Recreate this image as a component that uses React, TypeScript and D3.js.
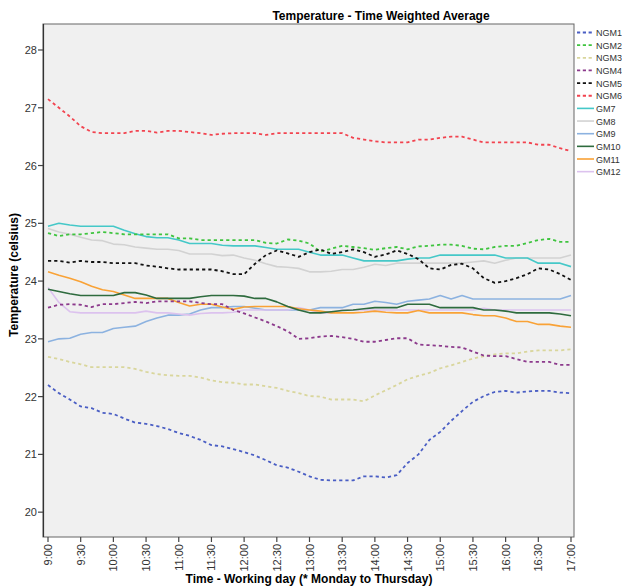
import React from "react";
import * as d3 from "d3";

const times = [
  "9:00","9:10","9:20","9:30","9:40","9:50","10:00","10:10","10:20","10:30","10:40","10:50",
  "11:00","11:10","11:20","11:30","11:40","11:50","12:00","12:10","12:20","12:30","12:40","12:50",
  "13:00","13:10","13:20","13:30","13:40","13:50","14:00","14:10","14:20","14:30","14:40","14:50",
  "15:00","15:10","15:20","15:30","15:40","15:50","16:00","16:10","16:20","16:30","16:40","16:50","17:00"
];

const tickLabels = ["9:00","9:30","10:00","10:30","11:00","11:30","12:00","12:30","13:00","13:30","14:00","14:30","15:00","15:30","16:00","16:30","17:00"];
const yTicks = [20, 21, 22, 23, 24, 25, 26, 27, 28];

const NGM1 = [22.20,22.06,21.95,21.83,21.80,21.72,21.70,21.62,21.55,21.53,21.49,21.44,21.37,21.32,21.25,21.16,21.14,21.09,21.04,20.98,20.90,20.81,20.77,20.70,20.62,20.56,20.55,20.55,20.55,20.62,20.62,20.60,20.64,20.85,21.00,21.25,21.39,21.58,21.75,21.91,22.01,22.08,22.10,22.07,22.09,22.10,22.10,22.07,22.06];
const NGM2 = [24.83,24.78,24.81,24.81,24.83,24.85,24.83,24.81,24.81,24.81,24.81,24.81,24.74,24.74,24.71,24.71,24.71,24.71,24.71,24.71,24.66,24.65,24.72,24.70,24.65,24.51,24.56,24.61,24.59,24.57,24.54,24.57,24.59,24.55,24.60,24.61,24.63,24.63,24.61,24.56,24.55,24.59,24.61,24.61,24.66,24.71,24.73,24.68,24.68];
const NGM3 = [22.69,22.65,22.60,22.56,22.51,22.51,22.51,22.51,22.48,22.43,22.39,22.37,22.36,22.36,22.33,22.28,22.25,22.24,22.21,22.21,22.18,22.15,22.10,22.06,22.01,22.00,21.95,21.95,21.95,21.92,22.02,22.11,22.20,22.30,22.36,22.41,22.49,22.54,22.60,22.66,22.70,22.73,22.75,22.75,22.78,22.80,22.80,22.80,22.82];
const NGM4 = [23.54,23.59,23.60,23.59,23.55,23.60,23.60,23.62,23.64,23.62,23.65,23.65,23.65,23.65,23.62,23.60,23.60,23.50,23.44,23.37,23.30,23.22,23.13,23.00,23.01,23.04,23.05,23.03,23.00,22.95,22.95,22.98,23.01,23.01,22.90,22.89,22.88,22.86,22.85,22.78,22.71,22.70,22.70,22.65,22.60,22.60,22.60,22.55,22.55];
const NGM5 = [24.35,24.35,24.32,24.35,24.33,24.33,24.31,24.31,24.31,24.27,24.25,24.22,24.20,24.20,24.20,24.20,24.17,24.12,24.12,24.30,24.45,24.53,24.48,24.42,24.50,24.55,24.47,24.50,24.55,24.50,24.42,24.46,24.53,24.47,24.38,24.22,24.20,24.28,24.30,24.22,24.05,23.97,24.00,24.05,24.12,24.22,24.20,24.12,24.02];
const NGM6 = [27.15,27.00,26.85,26.68,26.58,26.56,26.56,26.56,26.60,26.60,26.57,26.60,26.60,26.58,26.56,26.53,26.55,26.56,26.56,26.56,26.53,26.56,26.56,26.56,26.56,26.56,26.56,26.56,26.48,26.45,26.42,26.40,26.40,26.40,26.45,26.45,26.48,26.50,26.50,26.45,26.40,26.40,26.40,26.40,26.40,26.36,26.36,26.30,26.25];
const GM7 = [24.95,25.00,24.97,24.95,24.95,24.95,24.95,24.88,24.82,24.77,24.75,24.75,24.71,24.65,24.65,24.65,24.62,24.61,24.61,24.61,24.58,24.55,24.55,24.55,24.50,24.45,24.45,24.45,24.40,24.35,24.35,24.35,24.35,24.38,24.40,24.40,24.45,24.45,24.45,24.45,24.45,24.45,24.40,24.40,24.40,24.31,24.31,24.31,24.25];
const GM8 = [24.91,24.85,24.81,24.76,24.71,24.70,24.64,24.63,24.59,24.57,24.55,24.55,24.53,24.47,24.47,24.47,24.44,24.45,24.40,24.36,24.30,24.25,24.24,24.22,24.16,24.16,24.17,24.20,24.20,24.24,24.29,24.27,24.31,24.31,24.31,24.31,24.31,24.31,24.31,24.33,24.35,24.31,24.36,24.40,24.40,24.40,24.40,24.40,24.45];
const GM9 = [22.95,23.00,23.01,23.08,23.11,23.11,23.18,23.20,23.22,23.30,23.36,23.41,23.41,23.43,23.50,23.54,23.54,23.56,23.56,23.53,23.50,23.50,23.50,23.50,23.50,23.54,23.54,23.54,23.60,23.60,23.65,23.63,23.60,23.65,23.67,23.69,23.75,23.69,23.75,23.69,23.69,23.69,23.69,23.69,23.69,23.69,23.69,23.69,23.75];
const GM10 = [23.86,23.82,23.78,23.75,23.75,23.75,23.75,23.80,23.80,23.76,23.70,23.70,23.70,23.70,23.73,23.75,23.75,23.75,23.74,23.70,23.70,23.64,23.56,23.50,23.45,23.45,23.47,23.49,23.50,23.52,23.54,23.54,23.54,23.60,23.60,23.60,23.54,23.54,23.54,23.54,23.50,23.50,23.48,23.45,23.45,23.45,23.45,23.43,23.40];
const GM11 = [24.16,24.10,24.05,23.99,23.91,23.85,23.82,23.76,23.70,23.70,23.70,23.70,23.63,23.57,23.60,23.60,23.55,23.51,23.55,23.56,23.56,23.56,23.56,23.52,23.50,23.48,23.45,23.45,23.45,23.46,23.48,23.46,23.45,23.45,23.49,23.45,23.45,23.45,23.45,23.42,23.40,23.40,23.36,23.30,23.30,23.25,23.25,23.22,23.20];
const GM12 = [23.89,23.63,23.47,23.45,23.45,23.45,23.45,23.45,23.45,23.48,23.45,23.45,23.43,23.41,23.44,23.45,23.45,23.46,23.50,23.50,23.50,23.50,23.50,23.54,23.50,23.45,23.45,23.50,23.50,23.50,23.50,23.50,23.50,23.50,23.50,23.50,23.50,23.50,23.50,23.50,23.53,23.50,23.50,23.50,23.50,23.50,23.50,23.50,23.50];

const seriesNames = ["NGM1","NGM2","NGM3","NGM4","NGM5","NGM6","GM7","GM8","GM9","GM10","GM11","GM12"];
const seriesValues = [NGM1, NGM2, NGM3, NGM4, NGM5, NGM6, GM7, GM8, GM9, GM10, GM11, GM12];
const seriesColors = ["#4a5ec4","#3fc43f","#d9d69c","#8c3a8c","#111111","#f2434f","#45c8c8","#d2d2d2","#8cb2e0","#2e6b3e","#f9a236","#dcc2ee"];
const seriesDashed = [true, true, true, true, true, true, false, false, false, false, false, false];

const toMin = (s: string) => {
  const [h, m] = s.split(":").map(Number);
  return (h - 9) * 60 + m;
};

export default function App() {
  const W = 622, H = 587;
  const left = 43, right = 574, top = 24, bottom = 537;
  const x = d3.scaleLinear().domain([0, 480]).range([48, 571]);
  const y = d3.scaleLinear().domain([19.57, 28.45]).range([bottom, top]);
  const line = d3.line<number>()
    .x((_, i) => x(toMin(times[i])))
    .y((d) => y(d));
  const font = "'Liberation Sans', Arial, sans-serif";
  const order = [7, 6, 8, 11, 10, 9, 0, 1, 2, 3, 4, 5];
  return (
    <svg width={W} height={H} style={{ position: "absolute", left: 0, top: 0, background: "#fff" }} fontFamily={font}>
      <rect x={left} y={top} width={right - left} height={bottom - top} fill="#f0f0f0" stroke="#666" strokeWidth={1} />
      <text x={381} y={20} textAnchor="middle" fontSize={12} fontWeight="bold" fill="#000">Temperature - Time Weighted Average</text>
      {order.map((si) => (
        <path key={seriesNames[si]} d={line(seriesValues[si]) || ""} fill="none"
          stroke={seriesColors[si]} strokeWidth={seriesDashed[si] ? 1.8 : 1.6}
          strokeDasharray={seriesDashed[si] ? "3.2,3" : undefined} strokeLinejoin="round" />
      ))}
      <line x1={left + 0.5} x2={left + 0.5} y1={top} y2={bottom} stroke="#333" strokeWidth={1.2} />
      {yTicks.map((t) => (
        <g key={t}>
          <line x1={left - 5} x2={left} y1={y(t)} y2={y(t)} stroke="#444" strokeWidth={1.2} />
          <text x={left - 6} y={y(t) + 4} textAnchor="end" fontSize={11} fill="#333">{t}</text>
        </g>
      ))}
      {tickLabels.map((t) => {
        const px = x(toMin(t));
        return (
          <g key={t}>
            <line x1={px} x2={px} y1={bottom} y2={bottom + 5} stroke="#444" strokeWidth={1.2} />
            <text transform={`translate(${px + 4},${bottom + 7}) rotate(-90)`} textAnchor="end" fontSize={11} fill="#333">{t}</text>
          </g>
        );
      })}
      <text x={309} y={583} textAnchor="middle" fontSize={12} fontWeight="bold" fill="#000">Time - Working day (* Monday to Thursday)</text>
      <text transform={`translate(18,275) rotate(-90)`} textAnchor="middle" fontSize={12} fontWeight="bold" fill="#000">Temperature (celsius)</text>
      {seriesNames.map((n, i) => {
        const ly = 32.5 + i * 12.65;
        return (
          <g key={n}>
            <line x1={577} x2={594} y1={ly} y2={ly} stroke={seriesColors[i]} strokeWidth={seriesDashed[i] ? 1.8 : 1.6}
              strokeDasharray={seriesDashed[i] ? "3.2,2.6" : undefined} />
            <text x={596} y={ly + 3.5} fontSize={9} fill="#333">{n}</text>
          </g>
        );
      })}
    </svg>
  );
}
